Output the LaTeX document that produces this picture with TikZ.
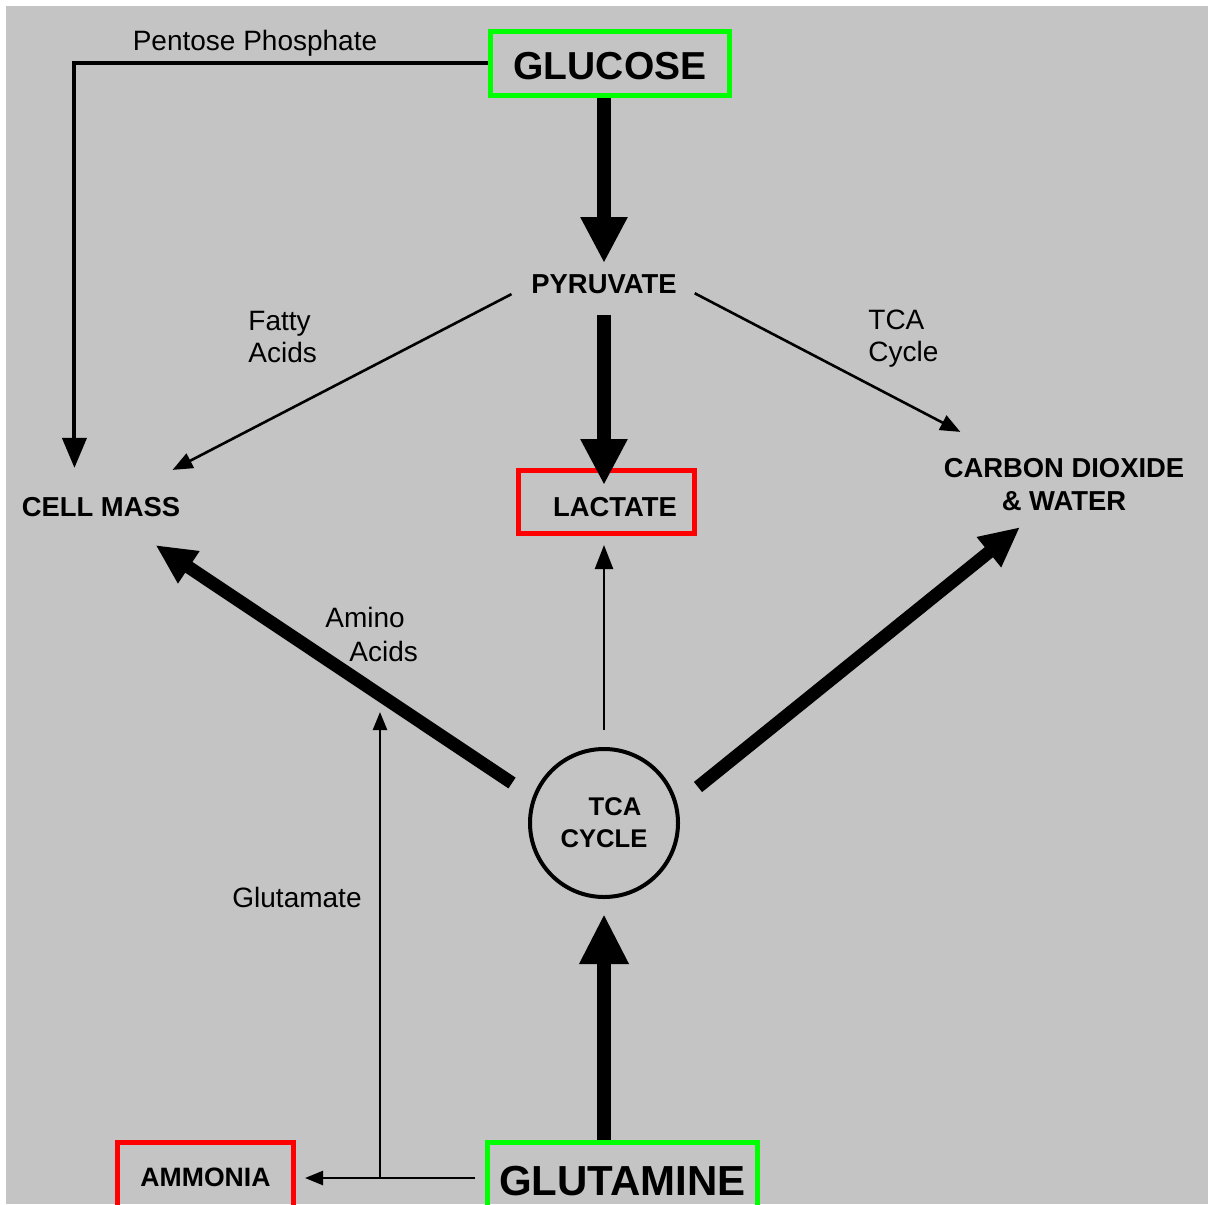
\documentclass[tikz,border=0pt]{standalone}
\usepackage{fontspec}
\setmainfont{Liberation Sans}
\usetikzlibrary{arrows.meta,calc}
\definecolor{bg}{RGB}{196,196,196}
\definecolor{boxgreen}{RGB}{0,255,0}
\definecolor{boxred}{RGB}{255,0,0}
\tikzset{
  caps/.style={font=\bfseries\fontsize{13.7}{16.5}\selectfont, inner sep=0pt},
  small/.style={font=\fontsize{14}{16}\selectfont, inner sep=0pt, align=left},
  greenbox/.style={draw=boxgreen, line width=2.5pt, inner sep=0pt},
  redbox/.style={draw=boxred, line width=2.5pt, inner sep=0pt},
  bigarrow/.style={line width=7pt, -{Triangle[length=23pt,width=22pt]}},
  diagarrow/.style={line width=6.5pt, -{Triangle[length=20pt,width=18pt]}},
  thinarrow/.style={line width=1.3pt, -{Triangle[length=10pt,width=8pt]}},
  tinyarrow/.style={line width=1.2pt, -{Triangle[length=9pt,width=7pt]}}
}
\begin{document}
\begin{tikzpicture}[x=0.5pt,y=-0.5pt]
\clip (0,0) rectangle (1208,1204);
\fill[white] (0,0) rectangle (1208,1204);
\fill[bg] (6,6) rectangle (1208,1204);

% nodes
\node[greenbox, font=\bfseries\fontsize{19.5}{22}\selectfont, anchor=base,
      minimum width=119.5pt, text height=24.25pt, text depth=7.75pt] (glucose) at (610,80) {GLUCOSE};
\node[caps] (pyr) at (604,284) {PYRUVATE};
\node[caps] (cell) at (101,507) {CELL MASS};
\node[caps, align=center] (co2) at (1064,484.5) {CARBON DIOXIDE\\\& WATER};
\node[redbox, caps, anchor=base, minimum width=88pt, text height=22.75pt, text depth=8.75pt]
      (lac) at (606.5,516) {\hspace*{8.5pt}LACTATE};
\node[draw, circle, line width=2pt, minimum size=74pt, inner sep=0pt,
      font=\bfseries\fontsize{12.8}{16}\selectfont, align=center] (tca) at (604,823) {\hspace*{11pt}TCA\\CYCLE};
\node[redbox, font=\bfseries\fontsize{13.3}{16}\selectfont, anchor=base, minimum width=88pt,
      text height=21.75pt, text depth=15pt] (amm) at (205.5,1186) {AMMONIA};
\node[greenbox, font=\bfseries\fontsize{21}{24}\selectfont, anchor=base, minimum width=135pt,
      text height=26.25pt, text depth=15pt] (glut) at (622.5,1195) {GLUTAMINE};

% labels
\node[small] (pplab) at (255,43) {Pentose Phosphate};
\node[small, anchor=west] (fattylab) at (248,337) {Fatty\\Acids};
\node[small, anchor=west] (tcalab) at (868,339) {TCA\\Cycle};
\node[small, anchor=west, font=\fontsize{14}{17}\selectfont] (aminolab) at (325,634) {Amino\\\hspace*{12pt}Acids};
\node[small] (glulab) at (297,897) {Glutamate};

% connectors
\draw[bigarrow, shorten >=5.5pt] (glucose.south -| pyr.north) -- (pyr.north);
\draw[bigarrow, shorten <=10.5pt, shorten >=-8.5pt] (pyr.south) -- (pyr.south |- lac.north);
\draw[line width=2pt, -{Triangle[length=15pt,width=12pt]}] (glucose.west) -| ($(cell.north west)+(53,-29)$);
\draw[thinarrow, shorten <=11pt] (pyr.west) -- ($(cell.north east)+(-8,-27)$);
\draw[thinarrow, shorten <=10pt] (pyr.east) -- ($(co2.north west)+(17,-26)$);
\draw[line width=1.2pt, -{Triangle[length=12pt,width=9pt]}, shorten <=8.5pt, shorten >=4.5pt]
      (tca.north) -- (tca.north |- lac.south);
\draw[diagarrow] ($(tca.west)+(-16,-40)$) -- ($(cell.south east)+(-25,28)$);
\draw[diagarrow] ($(tca.east)+(18,-36)$) -- ($(co2.south)+(-44,16)$);
\draw[line width=7pt, -{Triangle[length=25pt,width=23pt]}, shorten >=7.5pt]
      (tca.south |- glut.north) -- (tca.south);
\draw[tinyarrow] ($(glut.base west)+(-10,-17)$) -- ($(amm.base east)+(9,-8)$);
\coordinate (gjunct) at (380,1178);
\coordinate (gtip) at (380,712);
\draw[tinyarrow] (gjunct) -- (gtip);
\end{tikzpicture}
\end{document}
